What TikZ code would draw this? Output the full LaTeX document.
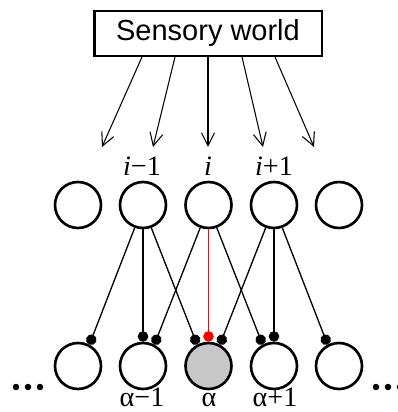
\documentclass[tikz,border=0pt]{standalone}
\usepackage{fontspec}
\setmainfont{Liberation Sans}
\newfontfamily\labelfont{Liberation Serif}
\usetikzlibrary{arrows.meta,calc}

\begin{document}
\begin{tikzpicture}
        [x=0.02cm, y=-0.02cm,
        unit/.style={circle, draw, line width=1.5pt, minimum size=0.92cm, inner sep=0pt},
        active/.style={unit, fill=black!22},
        world/.style={draw, line width=1.4pt, minimum width=4.55cm, minimum height=0.89cm, font=\fontsize{16.5}{18}\selectfont},
        feed/.style={line width=0.6pt, -{Straight Barb[length=2.6mm, width=2.6mm]}},
        link/.style={line width=0.75pt, -{Circle[length=2.1mm, width=2.1mm]}},
        strong/.style={link, red},
        index/.style={anchor=base, inner sep=1pt, font=\labelfont\fontsize{16}{18}\selectfont}]

        \useasboundingbox (0,0) rectangle (398,412);

        \node[world] (sw) at (208,33.5) {Sensory world};

        % input layer
        \node[unit] (t1) at (78,205) {};
        \node[unit] (t2) at (143,205) {};
        \node[unit] (t3) at (208.5,205) {};
        \node[unit] (t4) at (274,205) {};
        \node[unit] (t5) at (339,205) {};

        % output layer
        \node[unit] (b1) at (78,366) {};
        \node[unit] (b2) at (143,366) {};
        \node[active] (b3) at (208.5,366) {};
        \node[unit] (b4) at (274,366) {};
        \node[unit] (b5) at (339,366) {};

        % labels
        \node[index] (li1) at (142,175) {{\itshape i}−1};
        \node[index] (li2) at (208,175) {{\itshape i}};
        \node[index] (li3) at (274,175) {{\itshape i}+1};
        \node[index] (la1) at (142,406) {α−1};
        \node[index] (la2) at (209,406) {α};
        \node[index] (la3) at (275,406) {α+1};

        % sensory input
        \foreach \s/\e [count=\n] in {-66/-106, -33/-55, 0/0, 34/55, 67/106}
        {
          \coordinate (tip\n) at ($(sw.south)+(\e,90)$);
          \draw[feed] ($(sw.south)+(\s,0)$) -- (tip\n);
        }

        % connections
        \draw[link] (t2.-110) -- (b1.62);
        \draw[link] (t2.-90) -- (b2.90);
        \draw[link] (t2.-70) -- (b3.118);
        \draw[link] (t3.-110) -- (b2.62);
        \draw[strong] (t3.-90) -- (b3.90);
        \draw[link] (t3.-70) -- (b4.118);
        \draw[link] (t4.-110) -- (b3.62);
        \draw[link] (t4.-90) -- (b4.90);
        \draw[link] (t4.-70) -- (b5.118);

        % more units on both sides
        \foreach \x in {16,28,40,376,388,400}
          \fill (\x,387) circle (0.065cm);

\end{tikzpicture}
\end{document}
